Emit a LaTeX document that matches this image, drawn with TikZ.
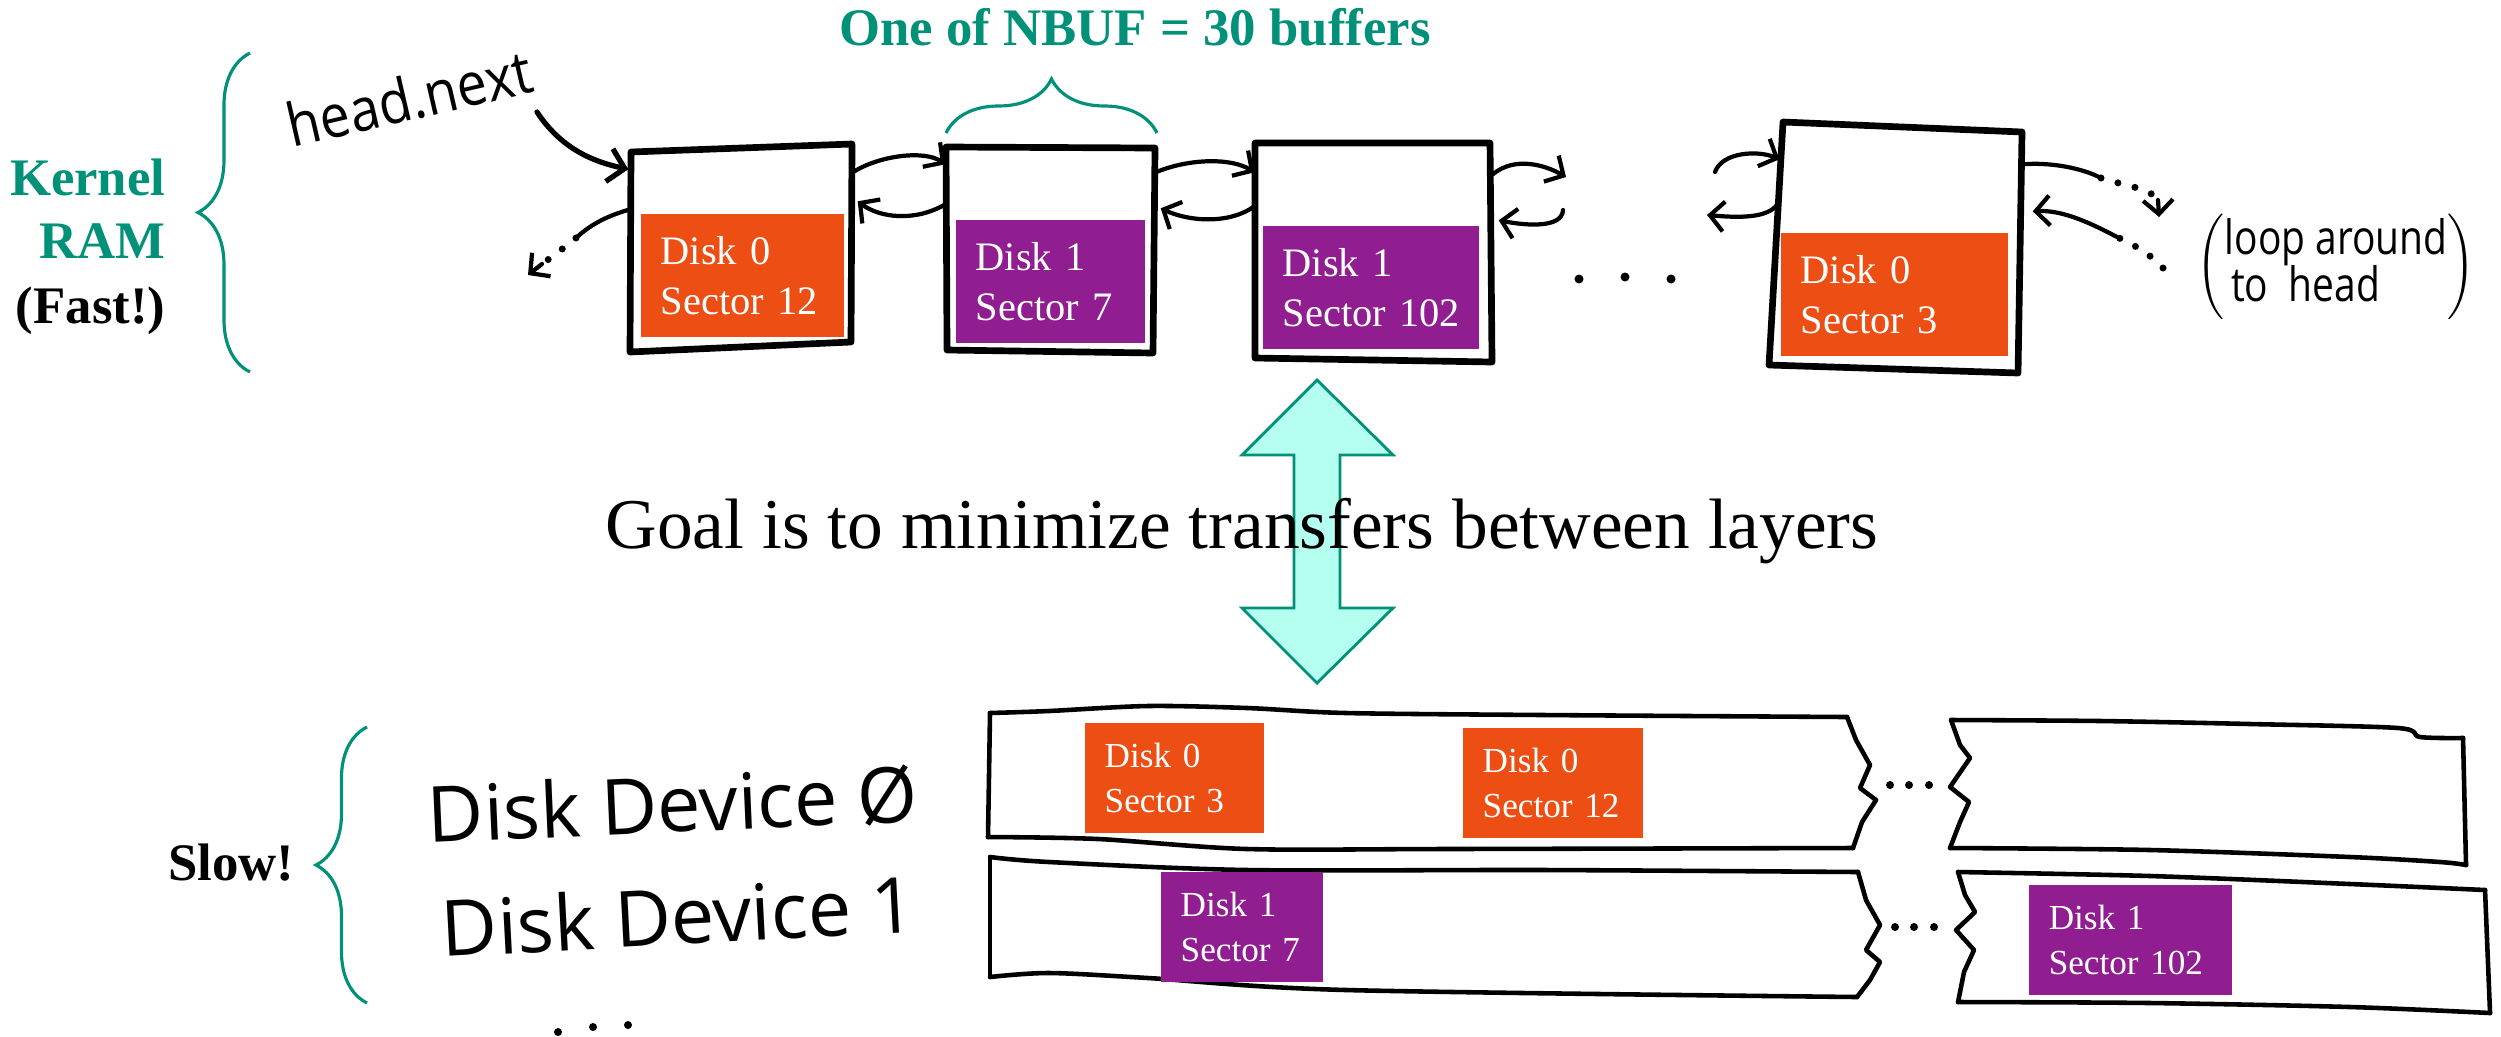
\documentclass[tikz,border=0pt]{standalone}
\usepackage{fontspec}
\usepackage{graphicx}
\setmainfont{Liberation Serif}
\newfontfamily\hand{Open Sans}
\usetikzlibrary{arrows.meta,decorations.pathreplacing,fit,calc}

\definecolor{kgreen}{RGB}{0,145,120}
\definecolor{dorange}{RGB}{236,78,20}
\definecolor{dpurple}{RGB}{145,30,145}
\definecolor{acyan}{RGB}{180,255,240}

\begin{document}
\begin{tikzpicture}[x=0.01cm,y=-0.01cm,
  boxline/.style={line width=1.9pt, line join=round, line cap=round},
  stripline/.style={line width=1.3pt, line join=round, line cap=round},
  linkline/.style={line width=1.2pt, line cap=round},
  link/.style={linkline, -{Straight Barb[length=4pt,width=8.5pt,line width=1.2pt]}},
  dotline/.style={line width=2pt, line cap=round, dash pattern=on 0pt off 5pt},
  hdot/.style={fill=black},
  brc/.style={draw=kgreen, line width=0.9pt, decorate},
  blk/.style={anchor=north west, inner xsep=0.2cm, inner ysep=0pt, text=white, align=left},
  blktop/.style={blk, minimum height=1.23cm, font=\fontsize{11.5}{14.2}\selectfont},
  blkbot/.style={blk, minimum height=1.10cm, font=\fontsize{10}{12.8}\selectfont},
  lbl/.style={font=\bfseries\fontsize{15}{18}\selectfont, inner sep=0pt},
  handtext/.style={font=\hand, inner sep=0pt}
]
\useasboundingbox (0,0) rectangle (2501,1036);
\fill[white] (0,0) rectangle (2501,1036);

% ---- kernel side labels ----
\node[lbl, text=kgreen, anchor=base east] (kern) at (166,195) {Kernel};
\node[lbl, text=kgreen, anchor=base east] (ram) at (166,258) {RAM};
\node[lbl, anchor=base east] (fast) at (166,323) {(Fast!)};
\draw[brc, decoration={brace, amplitude=0.52cm}] (250,372) -- (250,53);

% ---- buffer cache title ----
\node[lbl, text=kgreen, anchor=base] (title) at (1135,45) {One of NBUF = 30 buffers};
\draw[brc, decoration={brace, amplitude=0.54cm}] (946,133) -- (1157,133);

% ---- buffer boxes ----
\coordinate (b1a) at (631,152); \coordinate (b1b) at (852,144);
\coordinate (b1c) at (851,342); \coordinate (b1d) at (630,352);
\draw[boxline] (b1a) -- (b1b) -- (b1c) -- (b1d) -- cycle;
\node[fit=(b1a)(b1b)(b1c)(b1d), inner sep=0pt] (b1) {};

\coordinate (b2a) at (946,147); \coordinate (b2b) at (1155,148);
\coordinate (b2c) at (1153,353); \coordinate (b2d) at (947,350);
\draw[boxline] (b2a) -- (b2b) -- (b2c) -- (b2d) -- cycle;
\node[fit=(b2a)(b2b)(b2c)(b2d), inner sep=0pt] (b2) {};

\coordinate (b3a) at (1255,143); \coordinate (b3b) at (1490,143);
\coordinate (b3c) at (1492,362); \coordinate (b3d) at (1255,358);
\draw[boxline] (b3a) -- (b3b) -- (b3c) -- (b3d) -- cycle;
\node[fit=(b3a)(b3b)(b3c)(b3d), inner sep=0pt] (b3) {};

\coordinate (b4a) at (1783,122); \coordinate (b4b) at (2022,132);
\coordinate (b4c) at (2018,373); \coordinate (b4d) at (1769,365);
\draw[boxline] (b4a) -- (b4b) -- (b4c) -- (b4d) -- cycle;
\node[fit=(b4a)(b4b)(b4c)(b4d), inner sep=0pt] (b4) {};

% ---- buffer contents ----
\node[blktop, fill=dorange, text width=1.63cm] (t1) at (640,213) {Disk 0\\\mbox{Sector 12}};
\node[blktop, fill=dpurple, text width=1.49cm] (t2) at (955,219) {Disk 1\\\mbox{Sector 7}};
\node[blktop, fill=dpurple, text width=1.76cm] (t3) at (1262,225) {Disk 1\\\mbox{Sector 102}};
\node[blktop, fill=dorange, text width=1.87cm] (t4) at (1780,232) {Disk 0\\\mbox{Sector 3}};

% ---- list head ----
\node[handtext, font=\hand\fontsize{17}{20}\selectfont, rotate=13, anchor=base west] (hn) at (292,148) {\scalebox{0.9}[1]{head.next}};
\coordinate (hnstart) at (537,112);
\draw[linkline, line width=1.5pt, -{Straight Barb[length=4.5pt,width=9.5pt,line width=1.5pt]}]
  (hnstart) .. controls (562,150) and (595,162) .. ([shift={(-1,26)}]b1.north west);

% ---- links between buffers ----
\draw[link] ([shift={(0,29)}]b1.north east) .. controls (880,155) and (925,150) .. ([shift={(0,18)}]b2.north west);
\draw[link] ([shift={(0,58)}]b2.north west) .. controls (915,222) and (880,218) .. ([shift={(5,58)}]b1.north east);
\draw[link] ([shift={(0,26)}]b2.north east) .. controls (1190,158) and (1232,158) .. ([shift={(0,30)}]b3.north west);
\draw[link] ([shift={(0,64)}]b3.north west) .. controls (1230,224) and (1190,222) .. ([shift={(5,62)}]b2.north east);

\coordinate (r3out) at (1566,177);
\coordinate (r3in) at (1563,210);
\draw[link] ([shift={(0,32)}]b3.north east) .. controls (1515,156) and (1545,165) .. (r3out);
\draw[link] (r3in) .. controls (1562,228) and (1528,226) .. ([shift={(6,78)}]b3.north east);

\coordinate (l4in) at (1715,172);
\coordinate (l4out) at (1707,215);
\draw[link] (l4in) .. controls (1722,152) and (1758,150) .. ([shift={(11,38)}]b4.north west);
\draw[link] ([shift={(9,83)}]b4.north west) .. controls (1768,218) and (1740,218) .. (l4out);

% first buffer points back around (dotted, solid tip)
\coordinate (l1mid) at (576,238);
\coordinate (l1pre) at (542,264);
\coordinate (l1out) at (528,275);
\draw[linkline] ([shift={(1,66)}]b1.north west) .. controls (610,215) and (592,223) .. (l1mid);
\draw[dotline] (l1mid) .. controls (565,247) and (552,257) .. (l1pre);
\draw[link] (l1pre) -- (l1out);

% last buffer loops around to the head (dotted, solid tip)
\coordinate (r4mid) at (2101,178);
\coordinate (r4pre) at (2158,200);
\coordinate (r4out) at (2159,217);
\draw[linkline] ([shift={(0,43)}]b4.north east) .. controls (2050,162) and (2082,168) .. (r4mid);
\draw[dotline] (r4mid) .. controls (2125,186) and (2150,188) .. (r4pre);
\draw[link] (r4pre) -- (r4out);
\coordinate (r4in) at (2163,268);
\coordinate (r4mid2) at (2117,237);
\draw[dotline] (r4in) .. controls (2148,252) and (2132,244) .. (r4mid2);
\draw[link] (r4mid2) .. controls (2085,220) and (2060,210) .. ([shift={(10,90)}]b4.north east);

% ellipsis between buffers
\fill[hdot] (1579,279) circle (4.5) (1625,277) circle (4.5) (1671,279) circle (4.5);

\node[handtext, font=\hand\fontsize{13.5}{13.6}\selectfont] (loop) at (2336,267)
  {$\left(\mbox{\scalebox{0.82}[1]{\begin{tabular}{@{}l@{}}loop around\\[-1pt]\,to\ \ head\end{tabular}}}\right)$};

% ---- transfer arrow and goal ----
\draw[fill=acyan, draw=kgreen, line width=0.8pt, line join=miter]
  (1317,380) -- (1393,455) -- (1340,455) -- (1340,608) -- (1393,608) -- (1317,683)
  -- (1242,608) -- (1294,608) -- (1294,455) -- (1242,455) -- cycle;
\node[font=\fontsize{20.3}{24}\selectfont, anchor=base, inner sep=0pt] (goal) at (1242,548)
  {Goal is to minimize transfers between layers};

% ---- disk devices ----
\node[lbl, anchor=base east] (slow) at (295,880) {Slow!};
\draw[brc, decoration={brace, amplitude=0.51cm}] (367,1003) -- (367,727);

\node[handtext, font=\hand\fontsize{22}{26}\selectfont, rotate=2.5, anchor=base west] (dev0) at (428,843) {Disk Device Ø};
\node[handtext, font=\hand\fontsize{22}{26}\selectfont, rotate=3, anchor=base west] (dev1) at (442,957) {Disk Device 1};
\fill[hdot] (558,1032) circle (4) (593,1027) circle (4) (628,1025) circle (4);

% device 0 strip
\draw[stripline] plot[smooth] coordinates {(990,713) (1049,711) (1148,706) (1247,708) (1346,713) (1543,715) (1847,717)};
\draw[stripline] (1847,717) -- (1856,740) -- (1870,765) -- (1860,788) -- (1876,800) -- (1862,822) -- (1853,848);
\draw[stripline] plot[smooth] coordinates {(988,837) (1098,839) (1247,849) (1445,849) (1853,848)};
\draw[stripline] (990,713) -- (988,837);
\draw[stripline] (1951,720) -- (1960,745) -- (1970,758) -- (1950,787) -- (1969,802) -- (1960,822) -- (1950,848);
\draw[stripline] plot[smooth] coordinates {(1951,720) (2100,721) (2250,724) (2398,728) (2420,737) (2463,738)};
\draw[stripline] (2463,738) -- (2466,865);
\draw[stripline] plot[smooth] coordinates {(1950,848) (2150,850) (2350,857) (2440,862) (2466,865)};
\fill[hdot] (1890,785) circle (4) (1909,785) circle (4) (1929,785) circle (4);

% device 1 strip
\draw[stripline] plot[smooth] coordinates {(990,857) (1049,862) (1247,870) (1543,870) (1858,872)};
\draw[stripline] (1858,872) -- (1866,900) -- (1880,925) -- (1866,950) -- (1880,962) -- (1870,980) -- (1857,997);
\draw[stripline] plot[smooth] coordinates {(990,977) (1049,973) (1148,978) (1346,990) (1857,997)};
\draw[stripline] (990,857) -- (990,977);
\draw[stripline] (1958,872) -- (1965,895) -- (1975,912) -- (1956,930) -- (1974,950) -- (1964,972) -- (1958,1002);
\draw[stripline] plot[smooth] coordinates {(1958,872) (2150,876) (2350,884) (2485,890)};
\draw[stripline] (2485,890) -- (2490,1013);
\draw[stripline] plot[smooth] coordinates {(1958,1002) (2150,1003) (2350,1007) (2490,1013)};
\fill[hdot] (1895,927) circle (4) (1914,927) circle (4) (1934,927) circle (4);

% sectors on disk
\node[blkbot, fill=dorange, text width=1.39cm] (s03) at (1084,722) {Disk 0\\\mbox{Sector 3}};
\node[blkbot, fill=dorange, text width=1.40cm] (s012) at (1462,727) {Disk 0\\\mbox{Sector 12}};
\node[blkbot, fill=dpurple, text width=1.22cm] (s17) at (1160,871) {Disk 1\\\mbox{Sector 7}};
\node[blkbot, fill=dpurple, text width=1.63cm] (s1102) at (2028,884) {Disk 1\\\mbox{Sector 102}};
\end{tikzpicture}
\end{document}
